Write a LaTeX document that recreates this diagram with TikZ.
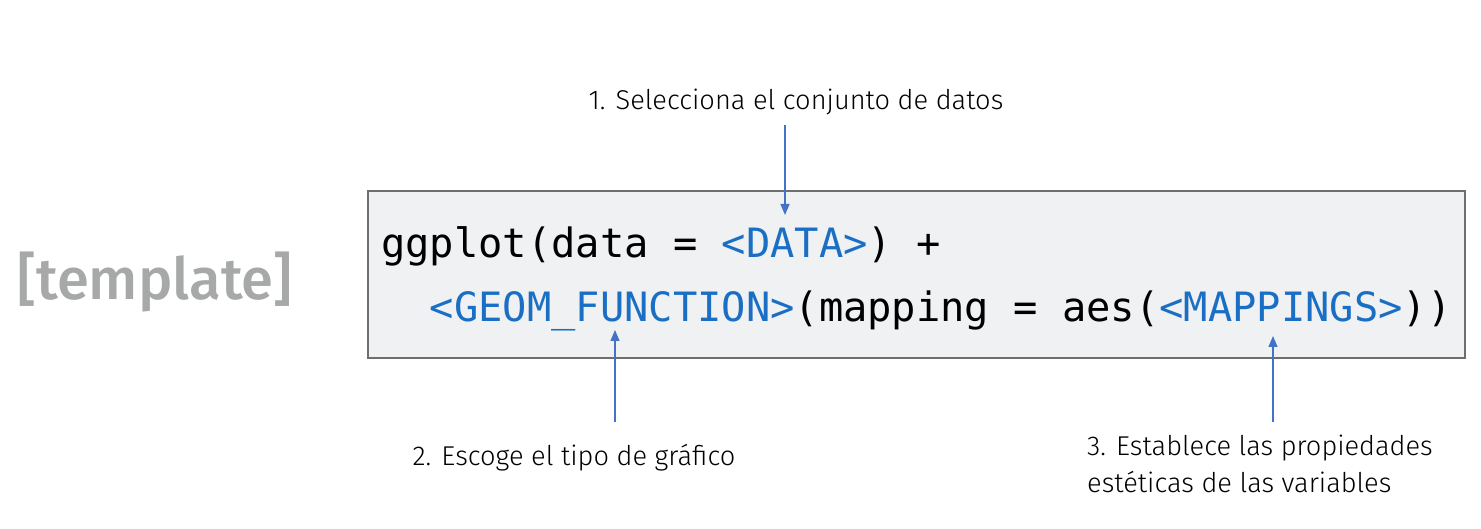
\documentclass[tikz,border=0pt]{standalone}
\usepackage{fontspec}
\setmainfont{Fira Sans Light}
\newfontfamily\codefont{DejaVu Sans Mono}
\newfontfamily\tagfont{Fira Sans Medium}
\usetikzlibrary{arrows.meta}
\definecolor{codeblue}{HTML}{1A6FC4}
\definecolor{arrowblue}{HTML}{4472C4}
\definecolor{boxfill}{HTML}{F0F1F3}
\definecolor{boxline}{HTML}{6E6E6E}
\definecolor{taggray}{HTML}{A7A9A9}
\newcommand{\hl}[1]{\textcolor{codeblue}{#1}}
\tikzset{
  note/.style={font=\fontsize{27.2}{37}\selectfont, inner sep=0pt, align=left},
  pointer/.style={draw=arrowblue, line width=1.3pt, -{Triangle[length=11pt,width=9pt]}},
  codeline/.style={font=\codefont\fontsize{40.4}{48}\selectfont, inner sep=0pt, anchor=base west},
}
\begin{document}
\begin{tikzpicture}[x=1pt,y=-1pt]
  \useasboundingbox (0,0) rectangle (1481,529);
  % code box
  \node[draw=boxline, fill=boxfill, line width=2pt, minimum width=1097pt, minimum height=167pt,
        inner sep=0pt, anchor=north west] (box) at (367,190) {};
  \node[codeline] (l1) at (381,258) {ggplot(data = \hl{<DATA>}) +};
  \node[codeline] (l2) at (381,322) {\ \ \hl{<GEOM\_FUNCTION>}(mapping = aes(\hl{<MAPPINGS>}))};
  % side tag
  \node[font=\tagfont\fontsize{58}{58}\selectfont, text=taggray, inner sep=0pt] (tag) at (155,282) {[template]};
  % annotations
  \node[note] (n1) at (796,102) {1. Selecciona el conjunto de datos};
  \node[note] (n2) at (574,458) {2. Escoge el tipo de gráfico};
  \node[note, anchor=north west] (n3) at (1087,435) {3. Establece las propiedades\\estéticas de las variables};
  \coordinate (t1) at (785,215);
  \coordinate (t2) at (615,330);
  \coordinate (t3) at (1273,336);
  \draw[pointer] (785,125) -- (t1);
  \draw[pointer] (615,422) -- (t2);
  \draw[pointer] (1273,422) -- (t3);
\end{tikzpicture}
\end{document}
